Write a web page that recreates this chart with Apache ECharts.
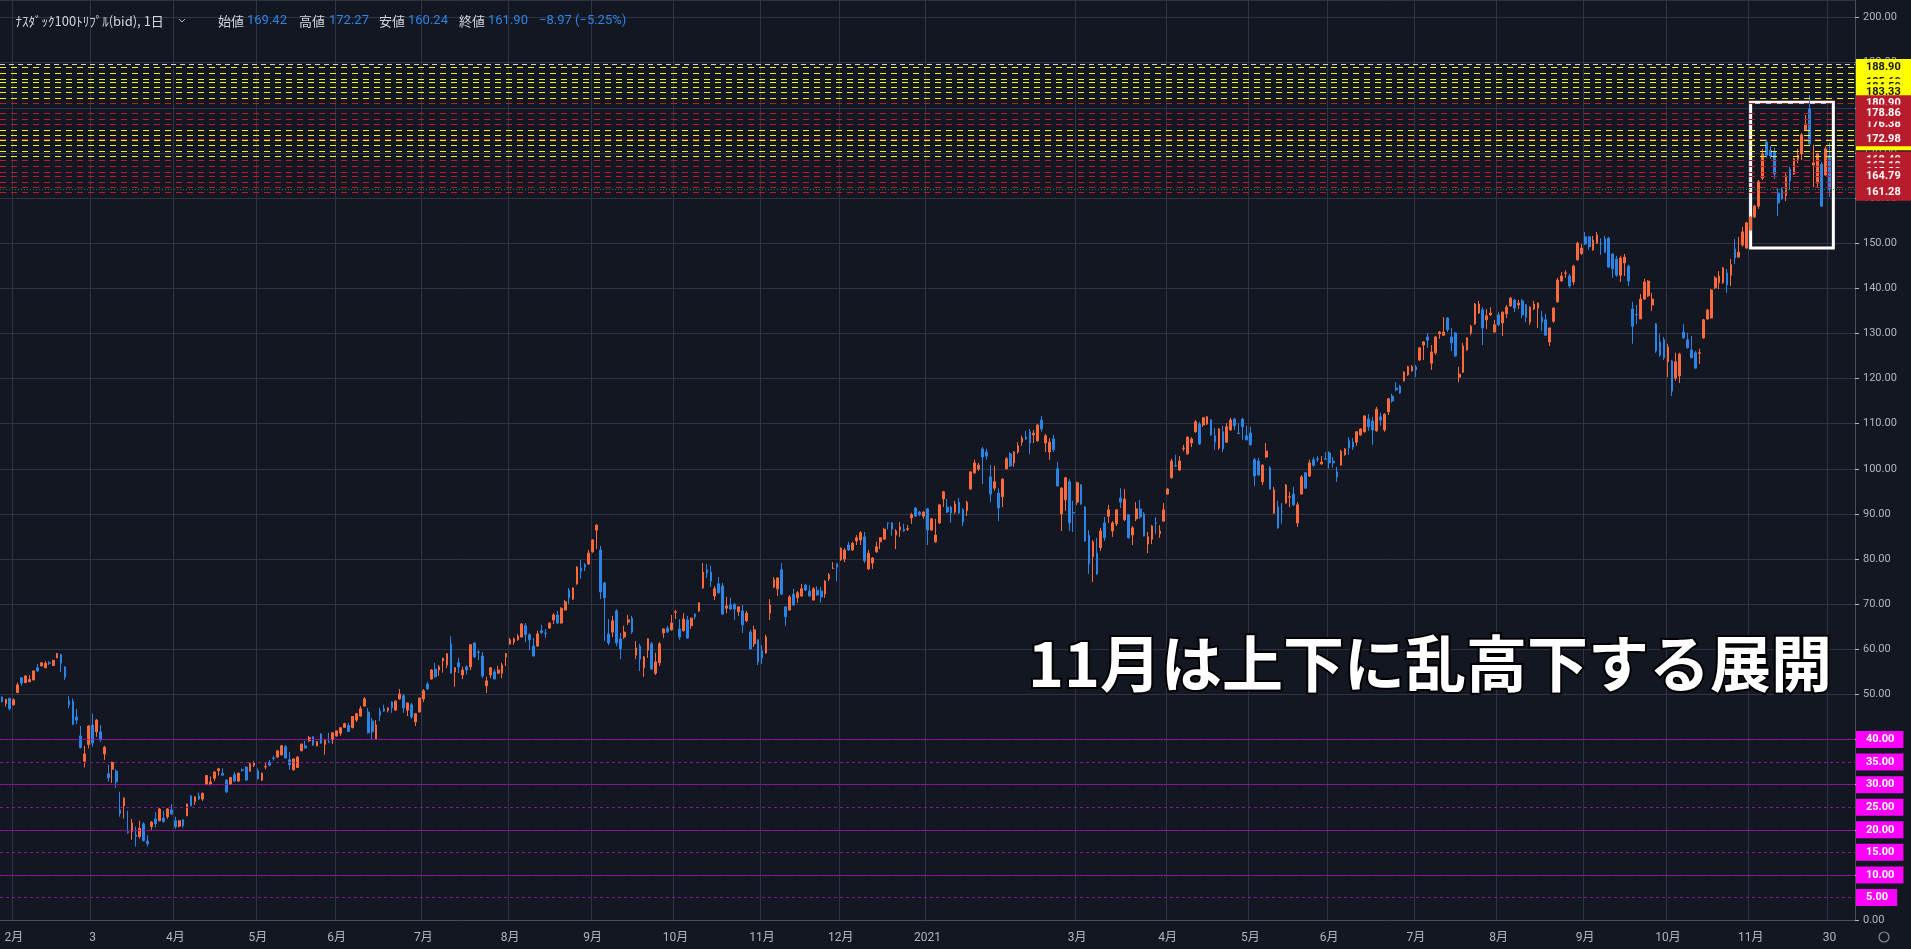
<!DOCTYPE html>
<html><head><meta charset="utf-8">
<script src="https://cdn.jsdelivr.net/npm/echarts@6/dist/echarts.min.js"></script>
<style>html,body{margin:0;padding:0;background:#131722;overflow:hidden}#c{width:1911px;height:949px}</style>
</head><body><div id="c"></div>
<script>
// ---------- trading calendar ----------
const firstDay = '2020-01-29', lastDay = '2021-11-30';
const holidays = ['2020-02-17','2020-04-10','2020-05-25','2020-07-03','2020-09-07','2020-11-26','2020-12-25',
  '2021-01-01','2021-01-18','2021-02-15','2021-04-02','2021-05-31','2021-07-05','2021-09-06','2021-11-25'];
const padBars = ['p1','p2','p3','p4','p5','p6'];
const tickLabels = {'2020-02-03':'2月','2020-03-03':'3','2020-04-01':'4月','2020-05-01':'5月','2020-06-01':'6月',
  '2020-07-01':'7月','2020-08-03':'8月','2020-09-01':'9月','2020-10-01':'10月','2020-11-02':'11月','2020-12-01':'12月',
  '2021-01-04':'2021','2021-03-01':'3月','2021-04-01':'4月','2021-05-03':'5月','2021-06-01':'6月','2021-07-01':'7月',
  '2021-08-02':'8月','2021-09-01':'9月','2021-10-01':'10月','2021-11-01':'11月','2021-11-30':'30'};

// ---------- OHLC ----------
const open = [49.4,48.0,49.1,47.7,50.4,53.7,52.6,52.8,53.2,55.9,56.3,55.9,57.0,
56.4,58.1,58.8,56.1,48.6,48.5,45.0,40.8,35.2,38.9,
43.2,41.7,41.7,36.8,32.4,33.4,33.0,24.4,25.3,19.6,
19.6,18.8,18.5,21.3,17.5,20.7,22.4,22.0,22.6,22.9,
24.4,22.0,20.8,22.2,23.1,27.5,26.2,27.5,26.8,30.1,
30.1,31.4,33.1,32.5,31.0,30.1,32.2,30.8,33.3,33.9,
33.0,34.3,33.0,31.0,33.9,34.9,35.9,36.1,36.6,38.4,
35.5,33.3,33.8,37.5,38.6,39.7,40.6,38.6,41.2,38.9,
39.5,39.9,40.8,41.4,42.7,43.1,42.6,44.3,45.2,47.4,
46.1,44.1,40.1,46.3,46.8,46.5,48.3,46.5,49.0,49.7,
46.5,47.7,43.9,46.1,49.0,52.3,53.4,55.6,55.4,57.4,
56.5,61.2,55.0,57.0,54.3,56.1,56.1,61.4,59.4,58.5,
51.9,54.3,55.0,54.7,54.7,58.3,61.2,61.6,62.1,62.7,
65.2,63.2,60.7,60.7,64.1,63.6,64.7,66.5,67.6,65.8,
68.7,73.1,71.1,74.5,78.0,78.7,78.9,81.6,86.4,82.0,
74.7,63.4,63.8,68.5,62.3,62.7,66.0,66.9,58.7,60.7,
55.9,59.8,61.2,54.7,57.0,63.6,64.7,64.3,68.2,64.5,
64.1,66.5,65.2,67.8,68.5,73.6,77.6,77.1,71.8,74.5,
74.0,69.1,69.8,70.0,68.3,68.5,66.3,63.8,61.2,62.1,
59.6,59.2,68.0,73.8,73.4,77.6,69.4,68.7,72.2,71.4,
71.8,74.2,72.9,70.9,73.1,72.9,72.2,75.6,77.9,78.9,
79.8,80.0,83.1,82.0,84.0,84.2,84.9,77.8,79.1,81.6,
83.8,84.4,88.0,88.0,85.3,86.4,86.6,86.6,89.1,91.3,
90.4,89.5,91.1,86.4,83.8,88.0,93.3,91.5,91.5,90.4,
92.6,90.9,90.7,95.5,99.1,100.0,104.4,103.7,98.2,95.7,
94.6,93.8,100.0,103.3,101.3,103.7,105.9,107.0,108.2,107.5,
106.2,110.8,105.7,103.7,106.6,100.0,90.0,93.1,97.1,90.3,
92.6,96.4,91.5,85.3,80.5,81.3,82.5,88.0,89.5,86.2,
87.8,93.5,88.7,89.8,85.3,88.9,91.1,90.0,83.3,84.4,
88.0,85.6,88.4,94.4,98.0,100.7,99.7,104.5,103.3,105.7,
108.2,109.9,109.7,109.9,110.8,107.3,104.6,108.2,105.9,108.6,
111.0,107.9,111.0,107.3,107.9,102.0,101.7,97.1,102.6,100.2,
90.2,91.5,90.5,92.4,93.7,94.4,88.0,94.4,99.1,98.4,
102.0,102.2,101.1,102.2,103.5,101.7,99.3,100.8,103.1,106.2,
105.9,105.9,107.5,108.2,111.0,110.6,108.4,111.5,108.6,112.6,
116.1,117.9,118.3,119.5,120.8,121.7,122.6,124.1,127.4,129.2,
123.4,125.7,129.9,129.6,133.4,129.2,130.1,120.3,121.4,126.3,
130.1,132.1,134.5,135.2,133.0,134.1,130.3,134.1,132.3,134.3,
136.1,137.4,136.3,137.2,136.3,132.5,135.4,135.6,133.6,133.0,
128.1,132.7,137.0,141.6,143.3,142.7,141.4,146.3,147.7,151.4,
151.4,148.5,150.0,149.9,150.9,151.1,147.6,146.5,142.9,145.6,
144.9,135.4,134.2,133.2,137.6,138.3,136.3,132.1,128.1,128.6,
123.7,123.9,120.1,120.6,130.3,128.6,126.3,125.7,125.6,129.0,
133.2,133.4,140.1,141.2,141.2,143.4,142.9,148.7,146.9,149.6,
148.9,152.9,155.8,158.2,164.4,172.4,170.6,170.2,161.1,162.0,
160.5,166.4,165.3,168.6,169.8,175.1,179.7,167.3,163.3,167.5,
165.1,169.42];
const close = [48.4,48.9,46.8,48.8,52.1,52.5,54.1,53.3,55.2,55.2,57.0,56.9,56.9,
57.5,59.0,56.9,53.8,47.7,43.4,44.3,38.2,36.8,43.0,
39.2,44.3,39.9,38.3,31.5,34.9,30.6,23.6,27.0,19.4,
21.5,18.5,20.3,17.6,16.9,21.7,21.3,24.6,21.8,24.6,
23.5,20.7,22.0,20.9,25.7,25.3,27.3,26.8,28.1,32.0,
30.6,32.8,33.5,32.1,28.4,31.6,30.8,32.5,33.2,31.0,
34.7,34.8,31.3,32.5,34.0,34.3,35.8,37.5,38.6,35.9,
34.4,35.7,36.1,39.0,38.1,40.4,38.8,39.5,39.2,39.8,
39.4,41.5,41.9,42.6,43.5,41.8,45.1,45.7,46.8,49.0,
41.5,41.7,43.2,45.4,46.3,47.0,47.0,48.5,50.1,47.0,
48.1,45.0,45.7,49.2,50.8,51.2,55.4,53.9,56.1,58.0,
59.0,54.7,55.9,56.1,55.4,55.4,61.0,58.3,59.3,54.1,
53.0,55.9,53.4,55.4,56.5,59.0,62.1,62.3,62.9,65.6,
63.2,62.1,58.5,63.4,63.7,63.5,65.8,67.6,65.8,69.1,
70.5,71.4,73.6,78.2,77.3,78.2,81.3,84.2,87.5,72.7,
71.4,61.4,66.3,61.4,60.1,63.8,66.5,63.8,60.3,57.8,
58.3,62.3,55.6,57.2,61.2,64.5,63.8,65.8,68.3,62.7,
66.7,62.5,66.9,67.2,70.3,77.1,76.9,75.1,73.4,72.5,
67.8,69.6,68.9,68.9,69.4,65.4,68.0,60.1,64.3,57.2,
58.1,62.7,69.8,75.4,75.8,72.2,67.2,71.6,69.8,72.5,
73.4,73.1,71.8,73.4,72.0,71.6,75.1,76.5,78.0,78.2,
82.4,82.0,82.0,83.5,84.7,85.8,79.6,81.3,80.2,82.7,
84.7,86.6,87.9,86.6,86.2,87.1,86.2,86.7,89.8,89.5,
89.8,90.4,86.4,88.9,85.3,92.0,94.9,90.4,90.2,92.2,
90.2,88.2,92.6,99.3,101.3,100.8,102.6,102.8,94.4,97.1,
91.3,97.7,102.2,100.6,103.7,105.1,106.8,106.6,105.7,107.9,
109.7,108.8,107.3,105.9,104.2,96.2,95.7,98.0,88.0,90.2,
96.9,92.2,84.0,78.9,83.8,76.7,86.2,84.7,90.9,88.0,
90.9,92.6,93.3,84.7,86.9,91.1,89.3,85.1,84.9,87.3,
87.9,86.2,90.9,95.5,101.7,100.6,101.7,104.6,107.0,106.6,
110.4,105.5,111.3,111.5,107.5,105.9,108.8,104.4,109.3,110.8,
109.5,107.8,109.3,106.4,105.3,98.4,98.6,100.8,103.9,95.5,
95.3,86.9,90.4,96.4,93.8,92.0,92.0,98.2,95.7,101.3,
100.8,102.1,101.5,102.1,101.3,101.3,98.2,103.9,104.4,104.6,
104.8,108.2,108.8,111.7,109.3,108.6,113.2,110.8,112.1,115.5,
115.0,117.5,116.8,121.4,122.6,122.6,121.9,126.8,128.1,128.5,
125.9,129.2,130.3,130.3,130.8,127.9,125.0,121.0,127.2,129.0,
131.6,136.5,136.5,131.2,133.9,134.5,131.9,131.9,134.7,135.8,
137.8,135.6,136.7,134.1,133.6,135.8,136.5,136.7,132.5,129.6,
131.2,135.6,141.8,142.7,143.4,140.5,144.9,150.0,148.9,149.8,
149.2,150.7,151.8,149.8,148.0,144.7,144.3,142.9,146.7,146.9,
141.6,131.6,134.1,137.6,141.4,141.6,137.6,126.1,125.2,124.6,
127.0,117.2,123.7,125.4,129.0,126.8,124.6,122.3,125.7,133.0,
135.2,139.6,142.3,142.7,144.5,140.7,145.2,146.7,148.0,152.5,
154.5,155.8,158.2,163.6,169.8,169.5,169.3,165.3,158.9,159.8,
164.9,163.8,168.7,169.5,174.0,176.4,172.0,167.8,169.8,158.2,
170.9,161.90];
const low = [48.2,47.3,46.4,47.5,50.3,51.9,52.5,52.7,53.1,55.0,56.2,55.8,56.5,
56.3,58.0,55.0,53.2,46.9,43.2,43.4,38.0,33.8,38.0,
38.4,40.6,39.5,35.5,30.7,30.4,29.3,22.9,22.5,19.1,
17.8,16.3,18.0,17.4,16.3,20.0,20.5,21.8,21.6,22.4,
23.3,20.2,20.5,20.5,23.0,25.2,25.5,26.6,26.4,29.9,
29.8,30.8,32.0,32.0,28.1,30.0,30.6,30.6,32.9,30.9,
32.9,33.9,31.1,30.8,33.4,34.1,35.3,35.9,36.4,35.8,
33.3,33.1,33.7,37.4,38.0,39.5,38.6,38.5,39.0,36.6,
39.2,39.0,40.6,40.8,42.6,41.7,42.5,43.9,45.1,47.3,
41.3,40.1,39.9,44.1,46.1,46.0,45.9,46.4,48.8,45.9,
45.2,44.6,43.0,46.0,48.3,51.0,53.3,53.7,54.1,54.8,
55.8,54.6,51.7,54.7,53.4,54.4,55.4,58.1,57.6,53.6,
50.3,53.6,53.3,54.6,53.6,56.3,61.0,61.0,61.9,62.6,
61.6,59.8,58.4,60.6,63.4,62.5,64.6,65.6,65.7,65.7,
68.6,70.0,71.0,74.3,75.6,77.3,78.7,81.4,82.2,71.1,
61.8,60.9,62.7,60.7,57.8,62.3,65.4,63.4,57.8,55.2,
53.9,58.1,55.4,54.3,56.3,62.5,63.6,64.1,66.7,62.1,
63.9,62.3,64.5,66.7,68.3,73.4,75.8,73.8,70.9,72.3,
67.6,68.0,68.7,66.5,67.4,63.6,66.0,59.9,60.5,56.5,
56.7,59.0,66.5,73.6,71.8,72.1,65.2,68.5,69.6,70.3,
71.6,72.9,71.6,70.8,71.9,70.3,71.4,75.1,77.8,75.1,
79.6,79.3,81.8,81.8,83.1,83.1,79.1,77.6,77.8,81.4,
82.2,84.3,86.6,85.1,82.2,84.9,86.0,86.2,87.8,89.4,
89.5,88.9,83.1,86.3,83.6,87.8,91.5,90.2,88.0,90.0,
90.0,87.3,89.5,95.3,98.8,99.5,96.6,102.0,92.6,95.1,
88.4,91.5,99.8,100.4,100.4,103.3,105.1,106.4,103.3,105.7,
106.0,108.2,103.7,102.0,103.7,96.0,86.2,90.7,86.2,86.0,
92.0,92.0,83.8,76.7,74.9,76.5,81.8,84.0,88.0,84.9,
87.3,91.3,88.4,84.5,83.1,88.4,88.9,85.0,81.3,83.3,
85.6,84.7,88.3,94.3,97.8,100.4,99.6,103.9,103.1,104.8,
108.0,105.3,109.3,109.7,107.3,104.2,104.2,103.7,105.7,108.4,
108.6,107.7,106.4,106.3,105.1,96.2,98.5,96.4,102.4,95.4,
90.0,86.7,87.8,92.3,91.5,91.8,87.1,94.3,95.6,98.2,
100.4,101.5,100.9,101.9,100.0,100.2,97.1,100.7,102.9,103.1,
104.2,105.1,107.3,108.0,108.4,105.3,108.2,109.5,108.2,111.9,
114.6,117.2,116.6,119.3,120.6,121.5,120.3,123.9,124.1,126.8,
121.9,125.2,128.8,129.4,130.3,126.1,124.8,119.2,121.2,126.2,
129.6,131.9,134.3,127.4,131.0,133.9,130.2,131.6,129.4,133.4,
135.9,134.7,135.4,133.4,132.5,131.9,135.2,131.2,130.5,129.5,
127.2,132.3,136.8,141.5,142.3,140.1,140.7,146.1,147.4,149.6,
148.5,148.3,149.8,147.4,147.8,144.5,142.3,142.5,141.4,142.7,
140.5,127.7,132.1,133.2,137.4,138.1,135.0,125.7,124.8,124.1,
120.3,116.1,119.5,119.0,128.8,126.6,124.5,122.2,123.2,128.8,
133.0,133.3,139.8,139.8,141.0,139.0,140.5,145.4,146.8,149.2,
148.8,152.7,155.6,157.6,164.0,168.9,168.7,164.2,156.0,159.6,
159.3,161.8,165.1,167.7,168.4,175.0,171.5,162.4,162.4,158.0,
164.9,160.24];
const high = [49.6,49.0,49.3,49.1,52.6,53.8,54.2,54.3,55.3,56.7,57.1,57.4,57.4,
57.7,59.2,59.0,56.2,49.6,49.1,46.8,43.0,38.6,43.2,
45.7,44.5,43.2,38.6,34.4,35.1,33.4,28.4,27.2,24.2,
22.4,20.7,22.0,21.7,18.8,21.9,23.9,24.8,24.2,24.8,
25.7,22.9,22.1,22.3,25.8,27.7,27.4,28.3,28.2,32.1,
31.8,33.0,33.7,33.6,31.2,31.7,32.8,32.7,33.6,34.1,
34.9,35.2,33.6,32.7,35.0,35.5,36.4,37.6,38.8,38.8,
37.2,35.8,36.3,39.1,39.7,40.8,40.7,39.7,41.4,39.9,
41.5,41.6,42.0,42.7,43.7,43.7,45.2,45.9,47.4,49.4,
47.0,44.8,44.3,47.0,47.7,47.1,48.5,48.7,51.2,50.1,
48.2,48.1,45.8,49.3,51.2,52.8,55.6,57.0,56.5,58.1,
59.1,62.9,56.0,58.1,56.1,56.4,61.1,61.5,59.8,59.4,
53.9,56.0,55.6,56.3,57.0,59.2,62.5,62.6,63.4,65.8,
65.8,63.6,62.5,64.1,65.4,64.5,66.0,68.0,68.5,69.3,
70.9,73.6,73.7,78.4,79.8,79.1,82.0,84.4,87.7,82.9,
74.9,66.7,67.4,68.9,63.6,65.2,67.6,67.4,61.8,61.2,
58.5,62.4,61.6,59.2,61.6,64.6,65.2,67.6,68.7,66.7,
68.0,67.4,67.0,67.9,70.4,79.1,78.9,78.5,74.0,76.0,
74.7,71.6,71.4,70.2,69.5,69.8,68.5,64.3,65.2,62.2,
60.9,63.2,71.1,76.0,75.9,79.1,69.5,72.0,73.4,72.9,
74.5,74.5,74.2,73.8,74.0,73.8,75.3,76.9,79.3,79.1,
82.6,82.4,83.8,83.8,85.3,86.2,86.0,82.0,80.4,83.8,
84.8,86.9,88.1,88.2,86.6,88.2,87.8,87.5,90.2,91.5,
90.6,90.6,91.3,89.1,88.9,92.1,95.1,93.3,91.8,92.9,
93.5,91.3,92.9,99.5,102.0,101.3,104.8,104.4,100.8,100.6,
95.7,97.9,102.6,103.7,103.9,105.9,107.3,108.4,108.8,108.6,
109.9,111.7,107.7,106.8,107.5,101.5,95.9,98.1,97.7,92.9,
97.1,96.6,91.7,86.4,84.2,84.7,86.9,89.3,92.0,88.4,
91.0,95.7,95.5,89.9,87.3,92.6,93.1,90.4,86.0,87.5,
89.3,87.5,92.4,95.7,102.2,103.1,102.8,105.3,107.2,107.0,
110.8,110.4,111.4,111.7,111.0,109.0,109.0,109.5,110.1,111.3,
111.3,110.1,111.3,109.5,109.3,102.4,102.4,101.0,105.7,100.6,
96.0,92.9,92.4,96.6,94.9,96.0,92.6,98.6,99.3,102.0,
102.6,102.8,102.8,103.7,103.9,102.6,100.4,104.2,104.6,107.0,
106.8,108.3,109.0,111.9,112.1,111.5,113.7,112.4,112.3,115.7,
116.6,119.2,118.6,121.6,122.8,123.0,123.0,126.9,128.3,130.1,
127.4,129.4,130.5,133.6,133.6,131.2,130.3,122.6,127.9,129.1,
131.9,136.7,137.2,135.8,135.4,135.8,133.0,134.7,134.9,136.3,
138.1,137.6,137.4,137.6,136.5,136.0,137.2,136.9,135.0,134.3,
131.3,135.8,142.3,143.6,144.0,143.2,145.2,150.3,149.8,152.5,
151.6,151.6,152.5,151.1,151.6,151.4,147.8,147.2,147.2,147.6,
145.2,137.0,136.3,138.7,142.1,141.8,139.0,132.3,129.9,129.2,
127.7,124.1,125.7,125.7,132.1,130.1,129.4,126.1,126.6,133.2,
135.4,139.8,142.7,143.8,144.7,144.3,146.5,150.9,151.4,153.6,
154.7,156.0,158.5,164.0,170.9,172.9,171.5,171.1,162.2,162.4,
165.5,166.9,168.9,170.9,174.4,178.4,182.8,171.8,170.0,168.0,
171.5,172.27];

// ---------- horizontal levels ----------
const whiteLevels = [189.6];
const yellowLevels = [188.90, 187.6, 186.3, 185.6, 184.5, 183.33, 182.1, 175.1, 174.0, 172.9, 171.6, 170.4, 169.3];
const yellowLabelled = [187.6, 186.3, 185.6, 184.5, 188.90, 183.33];
const redLevels = [180.90, 178.86, 177.4, 176.38, 172.98, 168.4, 167.1, 165.8, 164.79, 163.5, 162.4, 161.28];
const redLabelled = [177.4, 176.38, 172.98, 168.4, 167.1, 165.8, 163.5, 162.4, 180.90, 178.86, 164.79, 161.28];
const yellowBar = 171.0;
const magentaLevels = [40, 35, 30, 25, 20, 15, 10, 5];
const lastPrice = 161.90;
const boxTop = 181.2, boxBottom = 148.9;
const header = {name:'ﾅｽﾀﾞｯｸ100ﾄﾘﾌﾟﾙ(bid), 1日', o:'169.42', h:'172.27', l:'160.24', c:'161.90', chg:'\u22128.97 (\u22125.25%)'};
const caption = '11月は上下に乱高下する展開';

// ---------- build ----------
function fmt(d){return d.toISOString().slice(0,10);}
const dates = [];
for (let d = new Date(firstDay+'T00:00:00Z'); fmt(d) <= lastDay; d.setUTCDate(d.getUTCDate()+1)) {
  const wd = d.getUTCDay(); const s = fmt(d);
  if (wd === 0 || wd === 6 || holidays.includes(s)) continue;
  dates.push(s);
}
const cats = dates.concat(padBars);
const candles = dates.map((d,i)=>[open[i], close[i], low[i], high[i]]).concat(padBars.map(()=>'-'));

const UP = '#ff6a3d', DOWN = '#2b84e6', GRIDC = '#2f3442', TXT = '#b2b5be';
const isTick = (idx, val) => Object.prototype.hasOwnProperty.call(tickLabels, val);
const LBL = {position:'end', distance:1, fontSize:11, fontFamily:'Roboto, sans-serif', fontWeight:'bold', lineHeight:11};

function line(v, color, type, width){
  return {yAxis:v, lineStyle:{color, type, width}, label:{show:false}};
}
function tag(v, bg, fg, pad){
  return {yAxis:v, lineStyle:{color:'rgba(0,0,0,0)', width:1, type:'solid'},
    label:Object.assign({show:true, formatter:v.toFixed(2), backgroundColor:bg, color:fg, padding:pad||[3,13,3,10]}, LBL)};
}
const markData = [];
whiteLevels.forEach(v=>markData.push(line(v,'#d0d0d0',[5,4],1)));
yellowLevels.forEach(v=>markData.push(line(v,'#f5f500',[6,5],1.2)));
redLevels.forEach(v=>markData.push(line(v,'#c0182c',[6,5],1.2)));
magentaLevels.forEach(v=>markData.push(line(v, v%10===0?'#b000b8':'#8a1496', v%10===0?[2,1]:[3,3], 1)));
markData.push(line(lastPrice,'#1e7d3c',[1,2],1));
yellowLabelled.forEach(v=>markData.push(tag(v,'#ffff00','#131722')));
redLabelled.forEach(v=>markData.push(tag(v,'#b71c2c','#ffffff')));
markData.push({yAxis:yellowBar, lineStyle:{color:'rgba(0,0,0,0)', width:1, type:'solid'},
  label:Object.assign({show:true, formatter:'', backgroundColor:'#ffff00', padding:[2,27.5,2,27.5]}, LBL, {fontSize:1, lineHeight:1})});
magentaLevels.forEach(v=>markData.push(tag(v,'#ff00ff','#ffffff',[3,9,3,10])));

const chart = echarts.init(document.getElementById('c'), null, {renderer:'canvas'});
const hdrFont = '13px "Noto Sans CJK JP", sans-serif';
const numFont = '13px Roboto, "Noto Sans CJK JP", sans-serif';
function t(x, text, fill, font){return {type:'text', x, y:21, z:100, style:{text, fill, font: font||hdrFont, verticalAlign:'middle'}};}

chart.setOption({
  animation:false,
  backgroundColor:'#131722',
  grid:{left:-1, right:56, top:0, bottom:29},
  xAxis:{type:'category', data:cats, boundaryGap:true,
    axisLine:{lineStyle:{color:'#4a4e5a'}}, axisTick:{show:false},
    axisLabel:{interval:isTick, formatter:v=>tickLabels[v]||'', color:TXT, fontSize:12, margin:12,
      fontFamily:'Roboto, "Noto Sans CJK JP", sans-serif'},
    splitLine:{show:true, interval:isTick, lineStyle:{color:GRIDC, width:1}}},
  yAxis:{type:'value', position:'right', min:0, max:203.88, interval:10, scale:false,
    axisLine:{show:true, lineStyle:{color:'#4a4e5a'}}, axisTick:{show:true, length:4, lineStyle:{color:TXT}},
    axisLabel:{formatter:v=>v.toFixed(2), color:TXT, fontSize:11, margin:8, showMaxLabel:false,
      fontFamily:'Roboto, sans-serif'},
    splitLine:{lineStyle:{color:GRIDC, width:1}}},
  series:[{type:'candlestick', data:candles, barWidth:2.2,
    itemStyle:{color:UP, color0:DOWN, borderColor:UP, borderColor0:DOWN, borderWidth:1},
    markLine:{silent:true, symbol:['none','none'], precision:2, data:markData},
    markArea:{silent:true, itemStyle:{color:'rgba(0,0,0,0)', borderColor:'#ffffff', borderWidth:3},
      data:[[{xAxis:'2021-11-01', yAxis:boxTop},{xAxis:'p1', yAxis:boxBottom}]]}
  }],
  graphic:[
    t(15.5, header.name, '#d1d4dc'),
    {type:'polyline', z:100, shape:{points:[[179,19],[182,22],[185,19]]}, style:{stroke:'#b2b5be', lineWidth:1, fill:null}},
    t(218,'始値','#d1d4dc'), t(247,header.o,'#2b84e6',numFont),
    t(299,'高値','#d1d4dc'), t(329,header.h,'#2b84e6',numFont),
    t(379,'安値','#d1d4dc'), t(408,header.l,'#2b84e6',numFont),
    t(459,'終値','#d1d4dc'), t(488,header.c,'#2b84e6',numFont),
    t(539,header.chg,'#2b84e6',numFont),
    {type:'text', x:1028, y:664, z:100, style:{text:caption, fill:'#ffffff', stroke:'#000000', lineWidth:4, strokeFirst:true,
      font:'bold 61px "Noto Sans CJK JP", sans-serif', verticalAlign:'middle'}},
    {type:'circle', z:100, shape:{cx:1884, cy:937, r:5}, style:{stroke:'#8a8e99', lineWidth:1.2, fill:null}}
  ]
});
</script></body></html>
